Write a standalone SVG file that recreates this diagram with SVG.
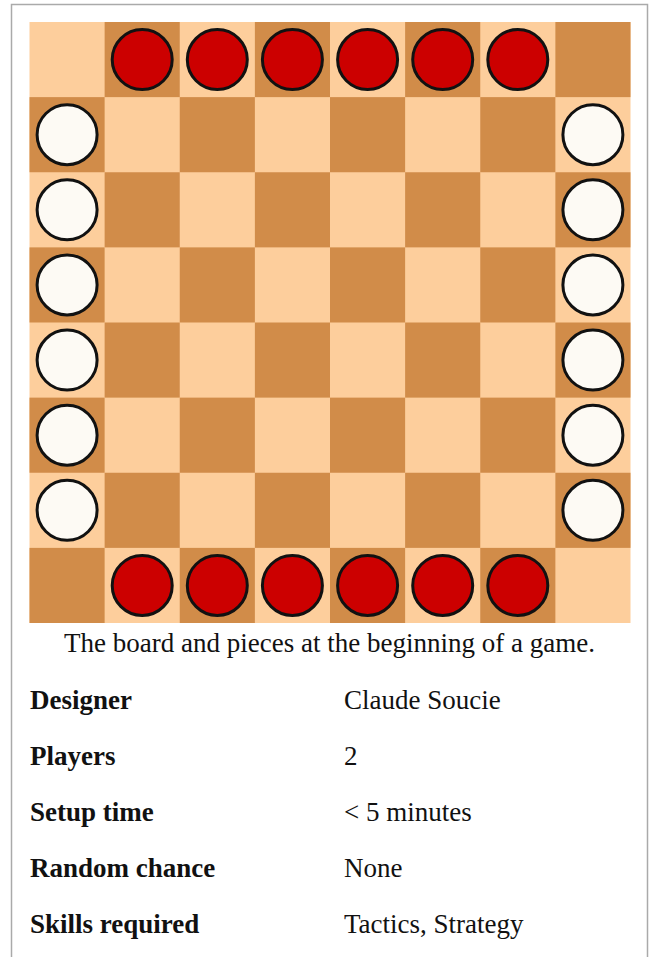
<svg xmlns="http://www.w3.org/2000/svg" width="650" height="957" viewBox="0 0 650 957">
<style>
.lt{fill:#fdce9c}
.dk{fill:#d18c49}
.red{fill:#cc0000;stroke:#111;stroke-width:3}
.wht{fill:#fdfaf4;stroke:#111;stroke-width:3}
.cap{font-family:"Liberation Serif","Times New Roman",serif;font-size:27px;fill:#111}
.lbl{font-family:"Liberation Serif","Times New Roman",serif;font-size:27px;font-weight:bold;fill:#111}
.val{font-family:"Liberation Serif","Times New Roman",serif;font-size:27px;fill:#111}
</style>
<rect x="0" y="0" width="650" height="957" fill="#fff"/>
<path d="M11.5 957 V4.5 H647.5 V957" fill="none" stroke="#aaa" stroke-width="1.5"/>
<g id="board">
<rect class="lt" x="29.5" y="22" width="601" height="601"/>
<g transform="translate(29.5,22) scale(1.001667)">
<rect class="dk" x="75" y="0" width="75" height="75"/><rect class="dk" x="225" y="0" width="75" height="75"/><rect class="dk" x="375" y="0" width="75" height="75"/><rect class="dk" x="525" y="0" width="75" height="75"/>
<rect class="dk" x="0" y="75" width="75" height="75"/><rect class="dk" x="150" y="75" width="75" height="75"/><rect class="dk" x="300" y="75" width="75" height="75"/><rect class="dk" x="450" y="75" width="75" height="75"/>
<rect class="dk" x="75" y="150" width="75" height="75"/><rect class="dk" x="225" y="150" width="75" height="75"/><rect class="dk" x="375" y="150" width="75" height="75"/><rect class="dk" x="525" y="150" width="75" height="75"/>
<rect class="dk" x="0" y="225" width="75" height="75"/><rect class="dk" x="150" y="225" width="75" height="75"/><rect class="dk" x="300" y="225" width="75" height="75"/><rect class="dk" x="450" y="225" width="75" height="75"/>
<rect class="dk" x="75" y="300" width="75" height="75"/><rect class="dk" x="225" y="300" width="75" height="75"/><rect class="dk" x="375" y="300" width="75" height="75"/><rect class="dk" x="525" y="300" width="75" height="75"/>
<rect class="dk" x="0" y="375" width="75" height="75"/><rect class="dk" x="150" y="375" width="75" height="75"/><rect class="dk" x="300" y="375" width="75" height="75"/><rect class="dk" x="450" y="375" width="75" height="75"/>
<rect class="dk" x="75" y="450" width="75" height="75"/><rect class="dk" x="225" y="450" width="75" height="75"/><rect class="dk" x="375" y="450" width="75" height="75"/><rect class="dk" x="525" y="450" width="75" height="75"/>
<rect class="dk" x="0" y="525" width="75" height="75"/><rect class="dk" x="150" y="525" width="75" height="75"/><rect class="dk" x="300" y="525" width="75" height="75"/><rect class="dk" x="450" y="525" width="75" height="75"/>
</g>
</g>
<g id="red-pieces">
<circle class="red" cx="142.2" cy="59.6" r="30"/><circle class="red" cx="217.3" cy="59.6" r="30"/><circle class="red" cx="292.4" cy="59.6" r="30"/><circle class="red" cx="367.6" cy="59.6" r="30"/><circle class="red" cx="442.7" cy="59.6" r="30"/><circle class="red" cx="517.8" cy="59.6" r="30"/>
<circle class="red" cx="142.2" cy="585.4" r="30"/><circle class="red" cx="217.3" cy="585.4" r="30"/><circle class="red" cx="292.4" cy="585.4" r="30"/><circle class="red" cx="367.6" cy="585.4" r="30"/><circle class="red" cx="442.7" cy="585.4" r="30"/><circle class="red" cx="517.8" cy="585.4" r="30"/>
</g>
<g id="white-pieces">
<circle class="wht" cx="67.1" cy="134.7" r="30"/><circle class="wht" cx="67.1" cy="209.8" r="30"/><circle class="wht" cx="67.1" cy="284.9" r="30"/><circle class="wht" cx="67.1" cy="360.1" r="30"/><circle class="wht" cx="67.1" cy="435.2" r="30"/><circle class="wht" cx="67.1" cy="510.3" r="30"/>
<circle class="wht" cx="592.9" cy="134.7" r="30"/><circle class="wht" cx="592.9" cy="209.8" r="30"/><circle class="wht" cx="592.9" cy="284.9" r="30"/><circle class="wht" cx="592.9" cy="360.1" r="30"/><circle class="wht" cx="592.9" cy="435.2" r="30"/><circle class="wht" cx="592.9" cy="510.3" r="30"/>
</g>
<g id="caption">
<text class="cap" x="329.5" y="651.5" text-anchor="middle">The board and pieces at the beginning of a game.</text>
</g>
<g id="row-designer"><text class="lbl" x="30" y="709">Designer</text><text class="val" x="344" y="709">Claude Soucie</text></g>
<g id="row-players"><text class="lbl" x="30" y="765">Players</text><text class="val" x="344" y="765">2</text></g>
<g id="row-setup"><text class="lbl" x="30" y="821">Setup time</text><text class="val" x="344" y="821">&lt; 5 minutes</text></g>
<g id="row-random"><text class="lbl" x="30" y="877">Random chance</text><text class="val" x="344" y="877">None</text></g>
<g id="row-skills"><text class="lbl" x="30" y="933">Skills required</text><text class="val" x="344" y="933">Tactics, Strategy</text></g>
</svg>
